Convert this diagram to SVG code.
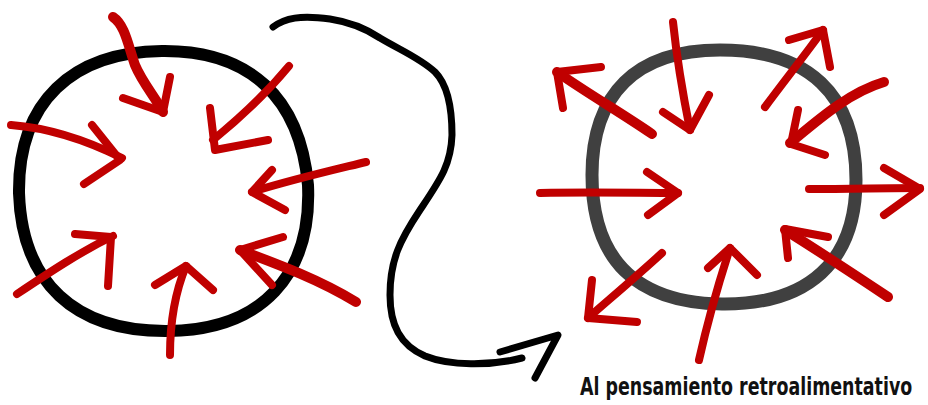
<svg xmlns="http://www.w3.org/2000/svg" width="928" height="405" viewBox="0 0 928 405">
<style>
.red{stroke:#c00000;stroke-width:8;fill:none;stroke-linecap:round;stroke-linejoin:round}
.thick{stroke-width:10}
.ring{fill:none;stroke-linecap:round;stroke-linejoin:round}
.label{font-family:"DejaVu Sans Condensed","Liberation Sans Narrow","Liberation Sans",sans-serif;font-weight:bold;font-size:25px;fill:#111}
</style>
<rect width="928" height="405" fill="#fff"/>
<g id="left-circle">
<path class="ring" stroke="#000" stroke-width="12" d="M162,51 C250,50 300,98 308,185 C312,275 262,330 168,331 C74,332 22,282 19,193 C18,102 72,52 162,51 Z"/>
<g id="left-arrows">
<path class="red thick" d="M113,17 C125,25 128,45 135,65 C142,82 155,97 163,112"/>
<polyline class="red" points="123,98 163,112 170,77"/>
<path class="red" d="M289,66 C265,95 240,118 213,140"/>
<polyline class="red" points="210,108 215,150 268,140"/>
<path class="red" d="M11,125 C50,128 90,142 122,158"/>
<polyline class="red" points="92,125 120,160 84,184"/>
<path class="red" d="M366,162 C325,172 290,180 252,192"/>
<polyline class="red" points="272,170 252,192 285,210"/>
<path class="red" d="M17,294 C50,272 80,252 113,236"/>
<polyline class="red" points="75,234 111,237 108,286"/>
<path class="red" d="M170,355 C170,320 176,290 186,266"/>
<polyline class="red" points="155,285 186,266 213,290"/>
<path class="red thick" d="M356,302 C320,280 280,265 240,250"/>
<polyline class="red" points="283,237 240,250 272,285"/>
</g>
</g>
<g id="connector">
<path fill="none" stroke="#000" stroke-width="7" stroke-linecap="round" stroke-linejoin="round" d="M273,27 C285,18 300,15 330,19 C350,22 365,28 380,38 C400,50 420,58 435,72 C448,85 452,110 452,135 C451,165 440,180 420,210 C400,240 390,260 390,295 C390,325 400,345 425,356 C450,366 490,366 522,358"/>
<polyline fill="none" stroke="#000" stroke-width="7" stroke-linecap="round" stroke-linejoin="round" points="500,352 558,335 535,378"/>
</g>
<g id="right-circle">
<path class="ring" stroke="#404040" stroke-width="13" d="M720,50 C808,50 856,94 856,180 C856,262 808,305 722,304 C636,303 592,260 592,175 C592,94 636,50 720,50 Z"/>
<g id="right-arrows">
<path class="red" d="M673,22 C677,60 683,95 690,130"/>
<polyline class="red" points="663,112 690,130 709,95"/>
<path class="red thick" d="M652,134 C620,112 590,95 557,72"/>
<polyline class="red" points="601,67 557,72 563,108"/>
<path class="red" d="M765,107 C785,80 805,55 823,30"/>
<polyline class="red" points="789,40 823,30 830,67"/>
<path class="red thick" d="M884,82 C850,92 820,118 790,143"/>
<polyline class="red" points="798,110 791,144 825,155"/>
<path class="red" d="M540,193 C590,192 640,193 678,193"/>
<polyline class="red" points="647,172 678,193 648,215"/>
<path class="red" d="M809,189 C850,189 885,188 920,188"/>
<polyline class="red" points="884,168 920,189 884,215"/>
<path class="red thick" d="M888,297 C855,275 820,252 785,230"/>
<polyline class="red" points="828,237 785,229 788,258"/>
<path class="red" d="M699,360 C708,320 718,285 730,248"/>
<polyline class="red" points="708,268 730,248 757,275"/>
<path class="red" d="M662,253 C638,275 612,297 588,318"/>
<polyline class="red" points="592,280 588,318 637,322"/>
</g>
</g>
<g id="caption" transform="translate(580,395) scale(0.74,1)">
<text class="label" x="0" y="0" textLength="449" lengthAdjust="spacingAndGlyphs">Al pensamiento retroalimentativo</text>
</g>
</svg>
